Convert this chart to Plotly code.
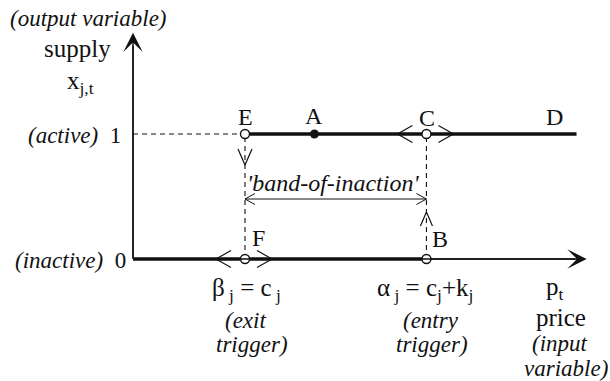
import plotly.graph_objects as go

# ---------------- data (diagram units) ----------------
states = [0, 1]                 # inactive / active supply
beta_exit = 1.0                 # exit trigger  beta_j = c_j
alpha_entry = 2.62              # entry trigger alpha_j = c_j + k_j
price_A = 1.62                  # operating point A
price_D = 3.96                  # end of active branch (D)
price_axis_end = 4.05           # end of the price axis
supply_axis_end = 1.81          # end of the supply axis
band_level = 0.48               # height of the band-of-inaction arrow

point_names = ["E", "A", "C", "D", "F", "B"]
point_x = [beta_exit, price_A, alpha_entry, price_D, beta_exit, alpha_entry]
point_y = [1, 1, 1, 1, 0, 0]

# ---------------- layout constants ----------------
W, H = 610, 381
ORIGIN_PX = (133, 259)
SX, SY = 112.0, 125.0           # pixels per unit
xr = [-ORIGIN_PX[0] / SX, (W - ORIGIN_PX[0]) / SX]
yr = [-(H - ORIGIN_PX[1]) / SY, ORIGIN_PX[1] / SY]

FONT = "Liberation Serif, Times New Roman, Times, serif"
FS_IT = 23      # italic notes
FS_UP = 25      # upright labels
FS_LET = 24     # point letters
BLACK = "#111111"

fig = go.Figure()


def line(xs, ys, width=1.0, dash=None, color=BLACK):
    fig.add_trace(go.Scatter(x=xs, y=ys, mode="lines", hoverinfo="skip",
                             line=dict(color=color, width=width, dash=dash)))


def chevron(x0, y0, direction, length_px, half_px, width=1.0):
    """open chevron with tip at (x0, y0), pointing in direction"""
    dx, dy = {"left": (-1, 0), "right": (1, 0), "up": (0, 1), "down": (0, -1)}[direction]
    bx = x0 - dx * length_px / SX
    by = y0 - dy * length_px / SY
    px_, py_ = -dy, dx
    xs = [bx + px_ * half_px / SX, x0, bx - px_ * half_px / SX]
    ys = [by + py_ * half_px / SY, y0, by - py_ * half_px / SY]
    line(xs, ys, width=width)


# dashed guide lines
line([0, beta_exit], [states[1], states[1]], width=1.1, dash="5px,4px")
line([beta_exit, beta_exit], [states[0], states[1]], width=1.1, dash="5px,4px")
line([alpha_entry, alpha_entry], [states[0], states[1]], width=1.1, dash="5px,4px")

# price axis (thin) and supply axis
line([0, price_axis_end - 0.1], [0, 0], width=1.4)
line([0, 0], [0, supply_axis_end - 0.1], width=1.4)

# thick branches
line([0, alpha_entry], [states[0], states[0]], width=3.4)
line([beta_exit, price_D], [states[1], states[1]], width=3.4)

# band-of-inaction double arrow
line([beta_exit, alpha_entry], [band_level, band_level], width=1.0)
chevron(beta_exit, band_level, "left", 10, 5.5)
chevron(alpha_entry, band_level, "right", 10, 5.5)

# switching direction chevrons
chevron(alpha_entry - 29 / SX, 1, "left", 15, 8.5, width=1.2)
chevron(alpha_entry + 27 / SX, 1, "right", 15, 8.5, width=1.2)
chevron(beta_exit - 29 / SX, 0, "left", 15, 8.5, width=1.2)
chevron(beta_exit + 27 / SX, 0, "right", 15, 8.5, width=1.2)
chevron(beta_exit, 1 - 31 / SY, "down", 16, 7, width=1.2)
chevron(alpha_entry, 47 / SY, "up", 14, 6, width=1.2)

# points
open_idx = [0, 2, 4, 5]
fig.add_trace(go.Scatter(
    x=[point_x[i] for i in open_idx], y=[point_y[i] for i in open_idx],
    mode="markers", hoverinfo="skip",
    marker=dict(symbol="circle", size=9, color="white",
                line=dict(color=BLACK, width=1.4))))
fig.add_trace(go.Scatter(
    x=[point_x[1]], y=[point_y[1]], mode="markers", hoverinfo="skip",
    marker=dict(symbol="circle", size=9, color=BLACK)))

# axis arrowheads
for (hx, hy) in [(price_axis_end, 0), (0, supply_axis_end)]:
    fig.add_annotation(x=hx, y=hy, ax=0, ay=0, xref="x", yref="y",
                       axref="x", ayref="y", text="", showarrow=True,
                       arrowhead=3, arrowsize=2.3, arrowwidth=1.4,
                       arrowcolor=BLACK)

# point letters
letter_shift = {"E": (0, 17), "A": (0, 18), "C": (1, 16), "D": (-22, 17),
                "F": (13, 21), "B": (14, 20)}
for name, x, y in zip(point_names, point_x, point_y):
    sx, sy = letter_shift[name]
    fig.add_annotation(x=x, y=y, xref="x", yref="y", text=name,
                       showarrow=False, xshift=sx, yshift=sy,
                       font=dict(family=FONT, size=FS_LET, color=BLACK))


def px_text(txt, cx, cy, anchor="center", size=FS_IT):
    fig.add_annotation(x=cx / W, y=1 - cy / H, xref="paper", yref="paper",
                       text=txt, showarrow=False, xanchor=anchor,
                       yanchor="middle",
                       font=dict(family=FONT, size=size, color=BLACK))


px_text("<i>(output variable)</i>", 88, 19)
px_text("supply", 77, 48, size=FS_UP)
px_text("x<sub>j,t</sub>", 80, 82, size=FS_UP)
px_text("<i>(active)</i>  1", 123, 135, anchor="right")
px_text("<i>(inactive)</i>  0", 128, 260, anchor="right")
px_text("<i>'band-of-inaction'</i>", 333, 183, size=24)

px_text("β<sub> j</sub> = c<sub> j</sub>", 246, 289, size=FS_UP)
px_text("<i>(exit</i>", 245, 320)
px_text("<i>trigger)</i>", 252, 344)

px_text("α<sub> j</sub> = c<sub>j</sub>+k<sub>j</sub>", 425, 289, size=FS_UP)
px_text("<i>(entry</i>", 431, 320)
px_text("<i>trigger)</i>", 432, 344)

px_text("p<sub>t</sub>", 555, 288, size=FS_UP)
px_text("price", 561, 317, size=FS_UP)
px_text("<i>(input</i>", 560, 343)
px_text("<i>variable)</i>", 566, 368)

fig.update_layout(
    width=W, height=H, autosize=False,
    margin=dict(l=0, r=0, t=0, b=0),
    paper_bgcolor="white", plot_bgcolor="white",
    showlegend=False,
    xaxis=dict(range=xr, visible=False, fixedrange=True),
    yaxis=dict(range=yr, visible=False, fixedrange=True),
)

fig.write_html("out.html", config={"displayModeBar": False},
               post_script="document.body.style.margin='0';"
                           "document.body.style.overflow='hidden';")
